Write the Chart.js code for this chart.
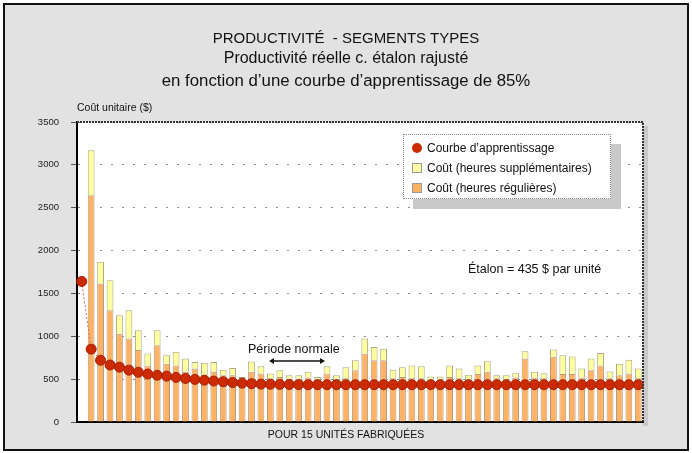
<!DOCTYPE html>
<html lang="fr">
<head>
<meta charset="utf-8">
<script src="https://cdn.jsdelivr.net/npm/chart.js@4.4.0/dist/chart.umd.min.js"></script>
<style>
  html, body { margin: 0; padding: 0; }
  body { width: 692px; height: 453px; position: relative; overflow: hidden; background: #fff;
         font-family: "Liberation Sans", Arial, sans-serif; color: #111; }
  #frame { position: absolute; left: 3px; top: 3px; width: 682px; height: 444px;
           border: 2px solid #111; background: #e2e2e2; }
  canvas { position: absolute; left: 0; top: 0; }
  .txt { position: absolute; white-space: nowrap; }
  .titre { left: 0; width: 692px; text-align: center; }
  #legend { position: absolute; left: 403px; top: 134px; width: 206px; height: 63px;
            background: #fff; border: 1px dotted #888; box-shadow: 10px 10px 0 #c9c9c9; font-size: 12px; }
  #legend .item { position: absolute; left: 8px; height: 14px; line-height: 14px; }
  #legend .mk { display: inline-block; width: 10px; height: 10px; vertical-align: -1px; margin-right: 5px;
                box-sizing: border-box; border: 1px solid #999; }
</style>
</head>
<body>
<div id="frame"></div>
<canvas id="prodChart" width="692" height="453"></canvas>

<div class="txt titre" style="top:29px;font-size:15px;">PRODUCTIVITÉ&nbsp; - SEGMENTS TYPES</div>
<div class="txt titre" style="top:49px;font-size:16px;">Productivité réelle c. étalon rajusté</div>
<div class="txt titre" style="top:71px;font-size:16.8px;">en fonction d’une courbe d’apprentissage de 85%</div>
<div class="txt" style="left:77px;top:101px;font-size:10.5px;">Coût unitaire ($)</div>
<div class="txt titre" style="top:428px;font-size:10.5px;">POUR 15 UNITÉS FABRIQUÉES</div>
<div class="txt" style="left:468px;top:262px;font-size:12.5px;">Étalon = 435 $ par unité</div>
<div class="txt" style="left:248px;top:342px;font-size:12.5px;">Période normale</div>
<svg class="txt" style="left:268px;top:356px;" width="58" height="10">
  <line x1="3" y1="5" x2="55" y2="5" stroke="#111" stroke-width="1.5"/>
  <path d="M1 5 L6 2 L6 8 Z M57 5 L52 2 L52 8 Z" fill="#111"/>
</svg>
<div id="legend"></div>

<script>
// catégories : lots de 15 unités
const lots = [1, 2, 3, 4, 5, 6, 7, 8, 9, 10, 11, 12, 13, 14, 15, 16, 17, 18, 19, 20,
  21, 22, 23, 24, 25, 26, 27, 28, 29, 30, 31, 32, 33, 34, 35, 36, 37, 38, 39, 40,
  41, 42, 43, 44, 45, 46, 47, 48, 49, 50, 51, 52, 53, 54, 55, 56, 57, 58, 59, 60];

// courbe d'apprentissage (coût unitaire $)
const courbe = [1640, 850, 720, 665, 640, 605, 580, 560, 545, 535, 520, 508, 497, 488, 478, 470, 460, 453, 447, 442,
  440, 438, 437, 436, 435, 435, 435, 435, 435, 435, 435, 435, 435, 435, 435, 435, 435, 435, 435, 435,
  435, 435, 435, 435, 435, 435, 435, 435, 435, 435, 435, 435, 435, 435, 435, 435, 435, 435, 435, 435];

// coût - heures régulières
const heuresRegulieres = [null, 2645, 1615, 1305, 1030, 975, 840, 660, 895, 680, 660, 585, 625, 545, 585, 545, 545, 500, 585, 565,
  510, 525, 505, 505, 520, 500, 565, 505, 510, 605, 800, 720, 720, 510, 525, 510, 510, 495, 495, 525,
  510, 500, 560, 585, 510, 500, 520, 740, 520, 510, 760, 560, 560, 520, 605, 660, 510, 545, 565, 510];

// coût - heures supplémentaires (empilé au-dessus)
const heuresSupp = [null, 525, 255, 350, 215, 330, 230, 140, 175, 100, 160, 155, 75, 145, 115, 65, 85, 25, 120, 85,
  55, 80, 40, 40, 65, 25, 85, 40, 130, 115, 175, 155, 135, 100, 115, 150, 140, 35, 35, 135,
  115, 50, 100, 125, 35, 45, 50, 85, 65, 60, 85, 220, 205, 105, 135, 145, 80, 135, 160, 115];

const yTicks = [0, 500, 1000, 1500, 2000, 2500, 3000, 3500];

const ORANGE = '#ffb164';
const JAUNE = '#ffff9e';
const ROUGE = '#cc2a00';

// fond blanc de la zone de tracé + cadre
const cadrePlugin = {
  id: 'cadre',
  beforeDraw(chart) {
    const { ctx, chartArea: a } = chart;
    ctx.save();
    ctx.fillStyle = '#c9c9c9';
    ctx.fillRect(a.right, a.top + 4, 5, a.bottom - a.top);
    ctx.fillStyle = '#fff';
    ctx.fillRect(a.left, a.top, a.right - a.left, a.bottom - a.top);
    ctx.restore();
  },
  afterDraw(chart) {
    const { ctx, chartArea: a } = chart;
    ctx.save();
    ctx.strokeStyle = '#333';
    ctx.lineWidth = 2;
    ctx.setLineDash([2, 1]);
    ctx.beginPath();
    ctx.moveTo(a.left, a.top);
    ctx.lineTo(a.right, a.top);
    ctx.lineTo(a.right, a.bottom);
    ctx.stroke();
    ctx.restore();
  }
};

const ctx = document.getElementById('prodChart').getContext('2d');
const prodChart = new Chart(ctx, {
  data: {
    labels: lots,
    datasets: [
      {
        type: 'line',
        label: 'Courbe d’apprentissage',
        data: courbe,
        borderColor: '#e06a5a',
        borderWidth: 1,
        borderDash: [2, 2],
        pointRadius: 5,
        pointBackgroundColor: ROUGE,
        pointBorderColor: '#a82000',
        pointBorderWidth: 1,
        stack: 'courbe',
        order: 0
      },
      {
        type: 'bar',
        label: 'Coût (heures régulières)',
        data: heuresRegulieres,
        backgroundColor: ORANGE,
        borderColor: '#b09a80',
        borderWidth: 1,
        stack: 'cout',
        order: 1
      },
      {
        type: 'bar',
        label: 'Coût (heures supplémentaires)',
        data: heuresSupp,
        backgroundColor: JAUNE,
        borderColor: '#a8a880',
        borderWidth: 1,
        stack: 'cout',
        order: 1
      }
    ]
  },
  options: {
    responsive: false,
    animation: false,
    layout: { padding: { left: 20, top: 122, right: 49, bottom: 0 } },
    datasets: { bar: { barPercentage: 0.72, categoryPercentage: 1 } },
    plugins: { legend: { display: false }, tooltip: { enabled: false } },
    scales: {
      x: {
        stacked: true,
        grid: { display: false },
        ticks: { display: false },
        border: { display: true, color: '#000', width: 2 },
        afterFit: s => { s.height = 31; }
      },
      y: {
        stacked: true,
        min: 0,
        max: 3500,
        afterBuildTicks: s => { s.ticks = yTicks.map(v => ({ value: v })); },
        ticks: { color: '#222', padding: 12, font: { family: 'Liberation Sans', size: 9.5 }, callback: v => v },
        grid: { color: '#8a8a8a', tickLength: 6, tickColor: '#555', tickBorderDash: [] },
        border: { display: true, color: '#000', width: 2, dash: [2, 9] },
        afterFit: s => { s.width = 57; }
      }
    }
  },
  plugins: [cadrePlugin]
});

// légende HTML à partir des jeux de données
const legendEl = document.getElementById('legend');
const ordreLegende = [0, 2, 1];
ordreLegende.forEach((i, row) => {
  const ds = prodChart.data.datasets[i];
  const item = document.createElement('div');
  item.className = 'item';
  item.style.top = (6 + row * 20) + 'px';
  const mk = document.createElement('span');
  mk.className = 'mk';
  if (ds.type === 'line') {
    mk.style.background = ROUGE;
    mk.style.borderRadius = '50%';
    mk.style.border = 'none';
  } else {
    mk.style.background = ds.backgroundColor;
  }
  item.appendChild(mk);
  item.appendChild(document.createTextNode(ds.label));
  legendEl.appendChild(item);
});
</script>
</body>
</html>
